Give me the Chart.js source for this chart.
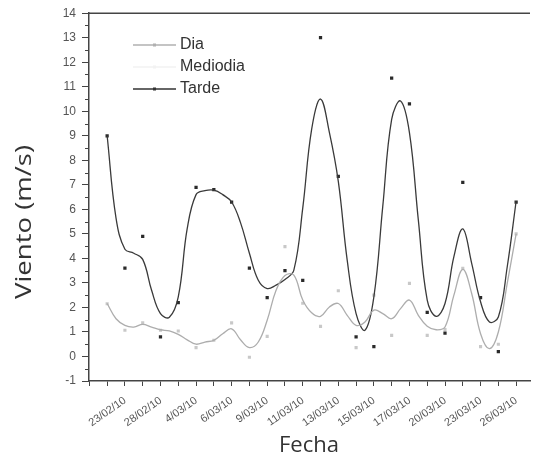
<!DOCTYPE html>
<html>
<head>
<meta charset="utf-8">
<script src="https://cdn.jsdelivr.net/npm/chart.js@4.4.1/dist/chart.umd.min.js"></script>
<style>
  html, body { margin: 0; padding: 0; background: #fff; }
</style>
</head>
<body>
<canvas id="grafico-viento" width="534" height="459"></canvas>
<script>
// etiquetas del eje x (una cada dos medidas)
const etiquetasFecha = ['23/02/10', '28/02/10', '4/03/10', '6/03/10', '9/03/10', '11/03/10',
  '13/03/10', '15/03/10', '17/03/10', '20/03/10', '23/03/10', '26/03/10'];

const nombresSeries = ['Dia', 'Mediodia', 'Tarde'];

// medidas (m/s), una por fecha
const tardePuntos = [9.0, 3.6, 4.9, 0.8, 2.2, 6.9, 6.8, 6.3, 3.6, 2.4, 3.5, 3.1,
  13.0, 7.35, 0.8, 0.4, 11.35, 10.3, 1.8, 0.95, 7.1, 2.4, 0.2, 6.3];
const diaPuntos = [2.15, 1.07, 1.37, 1.07, 1.04, 0.36, 0.66, 1.37, -0.03, 0.82, 4.48, 2.17,
  1.23, 2.68, 0.36, 2.5, 0.86, 2.98, 0.86, 1.1, 3.6, 0.4, 0.5, 5.0];

// curvas suavizadas, leidas cada media fecha
const tardeCurva = [9.0, 5.64, 4.37, 4.21, 3.96, 2.7, 1.75, 1.6, 2.43, 5.2, 6.6, 6.76,
  6.78, 6.6, 6.3, 5.46, 4.21, 3.11, 2.77, 2.91, 3.14, 3.52, 6.05, 9.26, 10.5, 9.13,
  7.14, 3.93, 1.75, 1.07, 2.43, 6.12, 9.67, 10.42, 9.13, 5.57, 2.3, 1.64, 2.16, 4.07,
  5.2, 3.8, 2.23, 1.41, 1.61, 3.66, 6.33];
const diaCurva = [2.16, 1.54, 1.27, 1.2, 1.31, 1.2, 1.09, 1.04, 0.9, 0.68, 0.5, 0.59,
  0.66, 0.93, 1.13, 0.68, 0.36, 0.59, 1.48, 2.7, 3.3, 3.32, 2.3, 1.78, 1.64, 2.02,
  2.16, 1.68, 1.27, 1.41, 1.89, 1.75, 1.54, 1.95, 2.3, 1.68, 1.23, 1.09, 1.2, 2.5,
  3.55, 2.57, 0.93, 0.32, 1.0, 2.98, 5.0];

const aPuntos = (valores, paso) => valores.map((v, i) => ({ x: i * paso, y: v }));

const decoracion = {
  id: 'decoracion',
  afterDraw(chart) {
    const { ctx, chartArea, scales } = chart;
    const y = scales.y;
    ctx.save();

    // borde superior
    ctx.strokeStyle = '#444';
    ctx.lineWidth = 1.5;
    ctx.beginPath();
    ctx.moveTo(chartArea.left, chartArea.top);
    ctx.lineTo(chartArea.right, chartArea.top);
    ctx.stroke();

    // ticks menores del eje y
    ctx.lineWidth = 1;
    ctx.beginPath();
    for (let v = -0.5; v < 14; v += 1) {
      const py = Math.round(y.getPixelForValue(v)) + 0.5;
      ctx.moveTo(chartArea.left - 4, py);
      ctx.lineTo(chartArea.left, py);
    }
    ctx.stroke();

    // titulos de ejes
    ctx.fillStyle = '#333';
    ctx.font = '22px "Open Sans"';
    ctx.textAlign = 'center';
    ctx.textBaseline = 'middle';
    ctx.fillText('Fecha', 309, 446);
    ctx.translate(25, 222);
    ctx.rotate(-Math.PI / 2);
    ctx.scale(1.25, 1);
    ctx.fillText('Viento (m/s)', 0, 0);
    ctx.setTransform(1, 0, 0, 1, 0, 0);

    // leyenda
    const coloresLeyenda = ['#b0b0b0', '#f2f2f2', '#333'];
    ctx.font = '16px "Liberation Sans"';
    ctx.textAlign = 'left';
    nombresSeries.forEach((nombre, i) => {
      const py = 45 + i * 22;
      ctx.strokeStyle = coloresLeyenda[i];
      ctx.lineWidth = 1.3;
      ctx.beginPath();
      ctx.moveTo(133, py);
      ctx.lineTo(176, py);
      ctx.stroke();
      ctx.fillStyle = coloresLeyenda[i];
      ctx.fillRect(153, py - 1.5, 3, 3);
      ctx.fillStyle = '#333';
      ctx.fillText(nombre, 180, py);
    });
    ctx.restore();
  },
};

const ctx = document.getElementById('grafico-viento').getContext('2d');

new Chart(ctx, {
  type: 'scatter',
  data: {
    datasets: [
      {
        label: 'Dia',
        data: aPuntos(diaCurva, 0.5),
        showLine: true,
        borderColor: '#adadad',
        borderWidth: 1.3,
        pointRadius: 0,
        tension: 0.4,
      },
      {
        label: 'Tarde',
        data: aPuntos(tardeCurva, 0.5),
        showLine: true,
        borderColor: '#3a3a3a',
        borderWidth: 1.3,
        pointRadius: 0,
        tension: 0.4,
      },
      {
        label: 'Dia puntos',
        data: aPuntos(diaPuntos, 1),
        pointStyle: 'rect',
        pointRadius: 2.2,
        backgroundColor: '#c8c8c8',
        borderWidth: 0,
      },
      {
        label: 'Tarde puntos',
        data: aPuntos(tardePuntos, 1),
        pointStyle: 'rect',
        pointRadius: 2.3,
        backgroundColor: '#2a2a2a',
        borderWidth: 0,
      },
    ],
  },
  options: {
    responsive: false,
    animation: false,
    layout: { padding: { top: 13, right: 0, left: 0, bottom: 0 } },
    plugins: {
      legend: { display: false },
      tooltip: { enabled: false },
    },
    scales: {
      x: {
        type: 'linear',
        min: -1.02,
        max: 23.78,
        afterFit: (scale) => { scale.height = 78; },
        border: { color: '#444', width: 1.5 },
        grid: { drawOnChartArea: false, tickLength: 5, color: '#444' },
        ticks: {
          stepSize: 1,
          includeBounds: false,
          autoSkip: false,
          minRotation: 35,
          maxRotation: 35,
          labelOffset: 18,
          padding: 8,
          color: '#555',
          font: { family: '"Liberation Sans"', size: 11 },
          callback: (valor) => (valor >= 0 && valor % 2 === 0 ? etiquetasFecha[valor / 2] : ''),
        },
      },
      y: {
        min: -1,
        max: 14,
        afterFit: (scale) => { scale.width = 89; },
        border: { color: '#444', width: 1.5 },
        grid: { drawOnChartArea: false, tickLength: 7, color: '#444' },
        ticks: {
          stepSize: 1,
          padding: 6,
          color: '#555',
          font: { family: '"Liberation Sans"', size: 12 },
        },
      },
    },
  },
  plugins: [decoracion],
});
</script>
</body>
</html>
